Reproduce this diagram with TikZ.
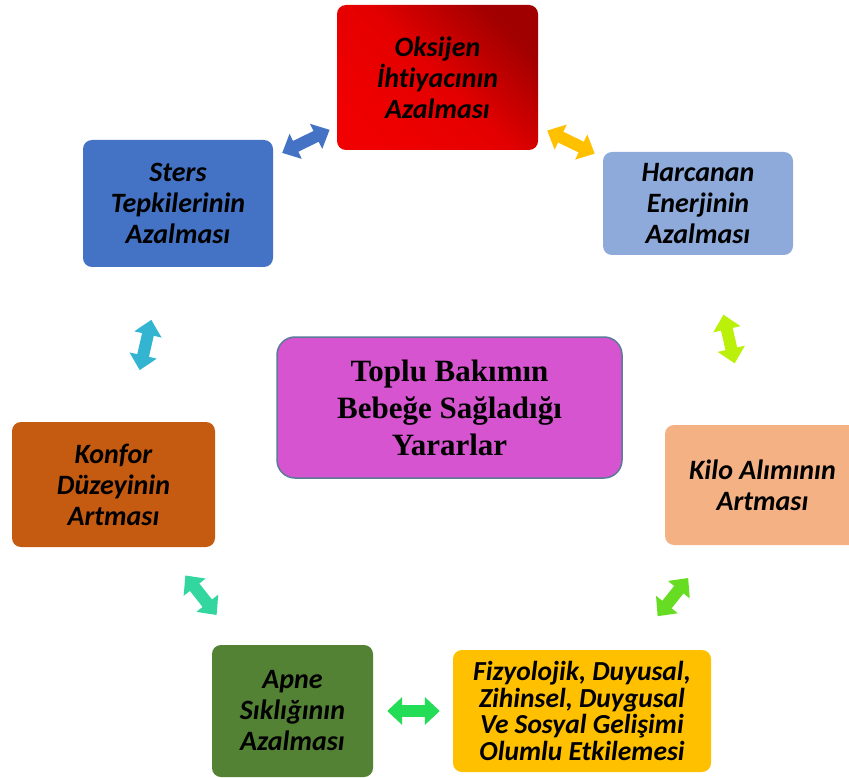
\documentclass[tikz,border=0pt]{standalone}
\usepackage{fontspec}
\setmainfont{Carlito}[Ligatures=NoCommon]
\newfontfamily\serifbody{Liberation Serif}
\usetikzlibrary{arrows.meta}

\definecolor{redmain}{HTML}{F00000}
\definecolor{reddark}{HTML}{A00000}
\definecolor{lightblue}{HTML}{8EAADB}
\definecolor{midblue}{HTML}{4472C4}
\definecolor{peach}{HTML}{F4B183}
\definecolor{rust}{HTML}{C55A11}
\definecolor{olive}{HTML}{548235}
\definecolor{gold}{HTML}{FFC000}
\definecolor{magenta}{HTML}{D654D0}
\definecolor{slate}{HTML}{5B7A99}
\definecolor{lime}{HTML}{BBF00A}
\definecolor{leaf}{HTML}{66DD22}
\definecolor{mint}{HTML}{22DD55}
\definecolor{aqua}{HTML}{33D69E}
\definecolor{sky}{HTML}{33B4D0}

\begin{document}
\begin{tikzpicture}[x=1pt,y=-1pt,
  main/.style={rounded corners=9pt, inner sep=0pt, align=center, text=black,
    font=\fontsize{28}{31}\selectfont\bfseries\itshape},
  link/.style={line width=12pt, {Triangle[length=15pt,width=27pt]}-{Triangle[length=15pt,width=27pt]}}]
\useasboundingbox (0,0) rectangle (849,778);
        \node[main, top color=reddark, bottom color=redmain, middle color=redmain!95!black, shading angle=-45,
              minimum width=201pt, minimum height=145pt] (1) at (437.5,77.5) {Oksijen\\İhtiyacının\\Azalması};
        \node[main, fill=lightblue, minimum width=190pt, minimum height=103pt] (2) at (698,203.5) {Harcanan\\Enerjinin\\Azalması};
        \node[main, fill=peach, minimum width=195pt, minimum height=120pt] (3) at (762.5,485) {Kilo Alımının\\Artması};
        \node[main, fill=gold, minimum width=258pt, minimum height=122pt,
              font=\fontsize{27.5}{26.7}\selectfont\bfseries\itshape] (4) at (582,711) {Fizyolojik, Duyusal,\\Zihinsel, Duygusal\\Ve Sosyal Gelişimi\\Olumlu Etkilemesi};
        \node[main, fill=olive, minimum width=161pt, minimum height=132pt] (5) at (292.5,711) {Apne\\Sıklığının\\Azalması};
        \node[main, fill=rust, minimum width=203pt, minimum height=125pt] (6) at (113.5,484.5) {Konfor\\Düzeyinin\\Artması};
        \node[main, fill=midblue, minimum width=190pt, minimum height=127pt] (7) at (178,203.5) {Sters\\Tepkilerinin\\Azalması};
        \node[main, fill=magenta, draw=slate, line width=1.5pt, rounded corners=18pt, minimum width=345pt, minimum height=141pt,
              font=\fontsize{31}{37}\selectfont\serifbody\bfseries] (0) at (449.5,407.5) {Toplu Bakımın\\Bebeğe Sağladığı\\Yararlar};
        \draw[link, midblue, shorten <=10pt, shorten >=8pt] (7) -- (1);
        \draw[link, gold, shorten <=10pt, shorten >=9pt] (1) -- (2);
        \draw[link, lime, shorten <=61pt, shorten >=63pt] (2) -- (3);
        \draw[link, leaf, shorten <=42pt, shorten >=43pt] (3) -- (4);
        \draw[link, mint, shorten <=13pt, shorten >=14pt] (4) -- (5);
        \draw[link, aqua, shorten <=38pt, shorten >=36pt] (5) -- (6);
        \draw[link, sky, shorten <=53pt, shorten >=54pt] (6) -- (7);
\end{tikzpicture}
\end{document}
